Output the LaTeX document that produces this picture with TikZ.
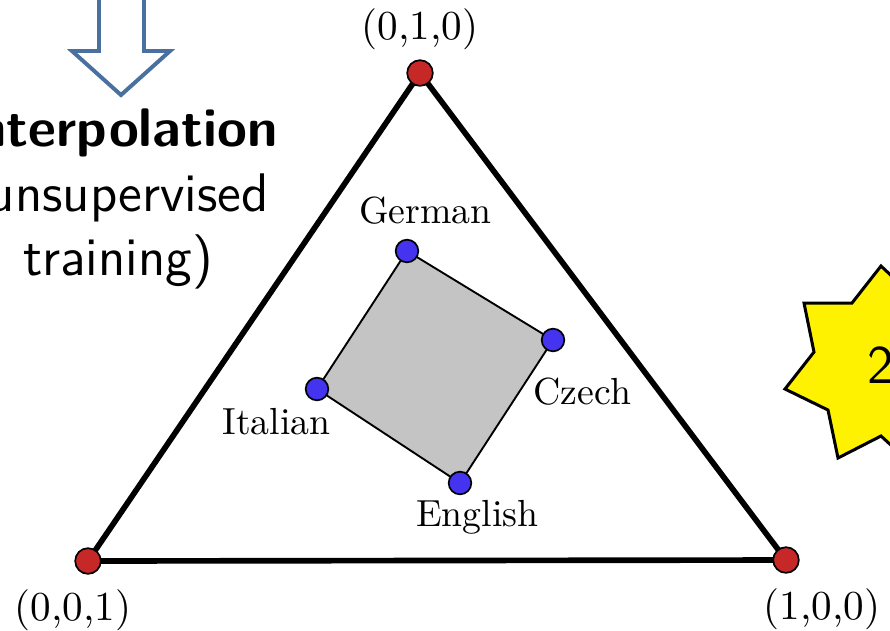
\documentclass[tikz,border=0pt]{standalone}
\usepackage{tikz}
\usepackage{xcolor}
\usetikzlibrary{positioning,backgrounds}

\definecolor{vertexred}{RGB}{198,40,40}
\definecolor{langblue}{RGB}{68,52,240}
\definecolor{arrowblue}{RGB}{74,112,160}

\begin{document}
\begin{tikzpicture}[
  x=0.265pt, y=-0.265pt,
  font=\normalsize,
  vertex/.style={circle, draw=black, line width=0.45pt, fill=vertexred, minimum size=6.8pt, inner sep=0pt},
  langdot/.style={circle, draw=black, line width=0.45pt, fill=langblue, minimum size=6pt, inner sep=0pt},
  corner/.style={font=\fontsize{10.9}{13}\selectfont},
  simplex/.style={line width=1.5pt, draw=black, line join=round},
  hull/.style={fill=black!23, draw=black, line width=0.5pt, line join=round},
  hollow/.style={draw=arrowblue, line width=1.05pt, fill=white},
  burst/.style={draw=black, line width=0.8pt, fill=yellow}
]
  \path[use as bounding box, clip] (0,0) rectangle (890,630);

  % simplex corners
  \node[vertex] (top) at (420,73) {};
  \node[vertex] (left) at (88,561) {};
  \node[vertex] (right) at (786,560) {};
  \node[corner, above=-1pt of top] (toplab) {(0,1,0)};
  \node[corner, below=0.3pt of left, xshift=-4pt] (leftlab) {(0,0,1)};
  \node[corner, below=0.3pt of right, xshift=9.5pt] (rightlab) {(1,0,0)};

  % languages
  \node[langdot] (german) at (407,251) {};
  \node[langdot] (czech) at (553,340) {};
  \node[langdot] (english) at (460,483) {};
  \node[langdot] (italian) at (317,389) {};
  \node[above=0.3pt of german, xshift=4.9pt] (germanlab) {German};
  \node[below=3.3pt of czech, xshift=7.8pt] (czechlab) {Czech};
  \node[below=-1.6pt of italian, xshift=-10.7pt] (italianlab) {Italian};
  \node[below=-2.3pt of english, xshift=4.6pt] (englishlab) {English};

  \begin{scope}[on background layer]
    \draw[simplex] (top.center) -- (right.center) -- (left.center) -- cycle;
    \draw[hull] (german.center) -- (czech.center) -- (english.center) -- (italian.center) -- cycle;
  \end{scope}

  % left: arrow and caption
  \draw[hollow] (99,-10) -- (99,51) -- (72,51) -- (121,95) -- (170,51) -- (144,51) -- (144,-10) -- cycle;
  \node[font=\sffamily\fontsize{14.4}{17}\selectfont, align=center] (interp) at (118,199)
    {\textbf{Interpolation}\\(unsupervised\\training)};

  % right: star
  \draw[burst] (881,266) -- (852,303) -- (804,303) -- (814,352) -- (785,389) -- (828,410)
    -- (838,458) -- (881,436) -- (940,490) -- (980,380) -- (930,312) -- cycle;
  \node[font=\sffamily\Large] (two) at (881,365) {2};
\end{tikzpicture}
\end{document}
